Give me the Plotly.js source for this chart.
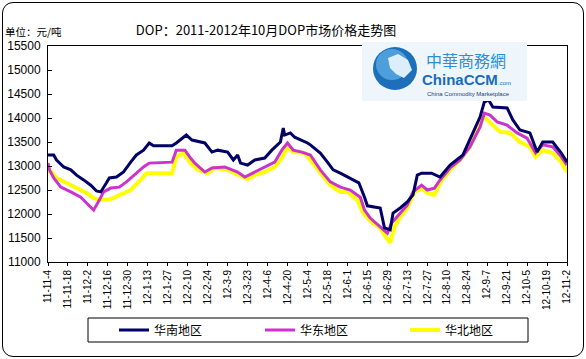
<!DOCTYPE html>
<html>
<head>
<meta charset="utf-8">
<script src="https://cdn.plot.ly/plotly-3.0.1.min.js"></script>
<style>
html,body{margin:0;padding:0;background:#fff;}
#wrap{position:relative;width:586px;height:359px;}
#chart{width:586px;height:359px;}
#frame{position:absolute;left:2px;top:2px;width:580px;height:353px;border:1px solid #000;border-radius:11px;pointer-events:none;}
</style>
</head>
<body>
<div id="wrap"><div id="chart"></div><div id="frame"></div></div>
<script>
// ---- data ----
const seriesNames = ['华南地区', '华东地区', '华北地区'];

const southDates = ['2011-11-04','2011-11-08','2011-11-10','2011-11-15','2011-11-20','2011-11-24','2011-11-29','2011-12-04','2011-12-08','2011-12-11','2011-12-15','2011-12-17','2011-12-22','2011-12-27','2012-01-01','2012-01-05','2012-01-10','2012-01-14','2012-01-17','2012-01-30','2012-02-02','2012-02-09','2012-02-13','2012-02-22','2012-02-27','2012-03-02','2012-03-09','2012-03-13','2012-03-16','2012-03-18','2012-03-23','2012-03-28','2012-04-04','2012-04-09','2012-04-15','2012-04-17','2012-04-18','2012-04-22','2012-04-25','2012-04-30','2012-05-04','2012-05-06','2012-05-13','2012-05-18','2012-05-22','2012-05-27','2012-06-03','2012-06-09','2012-06-13','2012-06-15','2012-06-24','2012-06-27','2012-07-01','2012-07-03','2012-07-08','2012-07-13','2012-07-17','2012-07-20','2012-07-23','2012-07-30','2012-08-05','2012-08-12','2012-08-21','2012-08-28','2012-09-02','2012-09-05','2012-09-08','2012-09-11','2012-09-21','2012-09-25','2012-09-30','2012-10-07','2012-10-12','2012-10-16','2012-10-23','2012-10-29','2012-11-02'];
const southValues = [13230,13230,13125,12980,12920,12810,12710,12600,12480,12460,12650,12750,12770,12875,13080,13230,13330,13480,13420,13420,13480,13645,13540,13480,13290,13330,13290,13125,13230,13060,13020,13125,13165,13330,13500,13790,13645,13690,13600,13540,13480,13440,13270,13080,12920,12850,12750,12650,12350,12170,12125,11710,11670,12020,12125,12250,12400,12810,12850,12850,12770,13020,13230,13690,14020,14330,14375,14230,14210,13960,13750,13690,13290,13500,13500,13270,13080];

const eastDates = ['2011-11-04','2011-11-05','2011-11-08','2011-11-13','2011-11-20','2011-11-27','2011-12-01','2011-12-06','2011-12-10','2011-12-13','2011-12-18','2011-12-24','2011-12-29','2012-01-05','2012-01-10','2012-01-14','2012-01-30','2012-02-02','2012-02-08','2012-02-12','2012-02-15','2012-02-22','2012-02-27','2012-03-07','2012-03-16','2012-03-21','2012-03-28','2012-04-04','2012-04-11','2012-04-16','2012-04-20','2012-04-24','2012-04-30','2012-05-06','2012-05-13','2012-05-20','2012-05-27','2012-06-03','2012-06-10','2012-06-13','2012-06-17','2012-06-24','2012-06-29','2012-07-02','2012-07-06','2012-07-13','2012-07-17','2012-07-23','2012-07-27','2012-08-01','2012-08-05','2012-08-12','2012-08-19','2012-08-26','2012-09-02','2012-09-05','2012-09-09','2012-09-14','2012-09-21','2012-09-28','2012-10-05','2012-10-11','2012-10-16','2012-10-23','2012-10-29','2012-11-02'];
const eastValues = [13060,12920,12750,12560,12460,12350,12230,12080,12290,12460,12540,12560,12670,12850,12980,13060,13080,13330,13330,13165,13060,12875,12960,12980,12875,12770,12875,12980,13080,13330,13480,13330,13290,13230,12920,12670,12560,12500,12350,12080,11915,11730,11600,11810,11940,12190,12460,12600,12500,12540,12710,12960,13125,13400,13810,14100,14060,13920,13850,13690,13580,13270,13440,13400,13190,13020];

const northDates = ['2011-11-04','2011-11-05','2011-11-10','2011-11-17','2011-11-24','2011-12-01','2011-12-06','2011-12-11','2011-12-18','2011-12-25','2012-01-01','2012-01-08','2012-01-12','2012-01-30','2012-02-02','2012-02-07','2012-02-12','2012-02-17','2012-02-24','2012-02-29','2012-03-09','2012-03-17','2012-03-23','2012-03-28','2012-04-04','2012-04-11','2012-04-16','2012-04-20','2012-04-24','2012-05-02','2012-05-06','2012-05-13','2012-05-20','2012-05-27','2012-06-01','2012-06-08','2012-06-12','2012-06-18','2012-06-24','2012-06-27','2012-07-01','2012-07-04','2012-07-08','2012-07-13','2012-07-18','2012-07-23','2012-07-27','2012-08-01','2012-08-05','2012-08-12','2012-08-19','2012-08-26','2012-09-02','2012-09-05','2012-09-09','2012-09-16','2012-09-23','2012-09-30','2012-10-07','2012-10-11','2012-10-16','2012-10-23','2012-10-29','2012-11-02'];
const northValues = [12850,12920,12750,12650,12540,12440,12330,12290,12310,12400,12500,12710,12850,12850,13190,13270,13060,12920,12850,12960,12920,12810,12730,12810,12875,12980,13165,13400,13290,13270,13125,12875,12600,12460,12460,12290,12020,11830,11710,11560,11400,11730,11940,12125,12460,12540,12440,12400,12650,12920,13125,13400,13920,14020,13900,13710,13690,13500,13400,13190,13330,13270,13080,12875];

const tickDates = ['2011-11-04','2011-11-18','2011-12-02','2011-12-16','2011-12-30','2012-01-13','2012-01-27','2012-02-10','2012-02-24','2012-03-09','2012-03-23','2012-04-06','2012-04-20','2012-05-04','2012-05-18','2012-06-01','2012-06-15','2012-06-29','2012-07-13','2012-07-27','2012-08-10','2012-08-24','2012-09-07','2012-09-21','2012-10-05','2012-10-19','2012-11-02'];
const tickLabels = ['11-11-4','11-11-18','11-12-2','11-12-16','11-12-30','12-1-13','12-1-27','12-2-10','12-2-24','12-3-9','12-3-23','12-4-6','12-4-20','12-5-4','12-5-18','12-6-1','12-6-15','12-6-29','12-7-13','12-7-27','12-8-10','12-8-24','12-9-7','12-9-21','12-10-5','12-10-19','12-11-2'];

const titleText = 'DOP：2011-2012年10月DOP市场价格走势图';
const unitText = '单位：元/吨';

// ---- layout helpers (pixel -> paper) ----
const L = 48, R = 567, T = 46, B = 262;
const PX = x => (x - L) / (R - L);
const PY = y => (B - y) / (B - T);

const cjk = '"Noto Sans CJK SC", "Noto Sans", sans-serif';
const legFont = {family: cjk, size: 12, color: '#000'};
const legBase = {orientation: 'h', xanchor: 'left', xref: 'paper', yanchor: 'middle', yref: 'paper',
                 y: PY(330), bgcolor: 'rgba(0,0,0,0)', borderwidth: 0, itemwidth: 30, font: legFont};

const traces = [
  {x: northDates, y: northValues, name: seriesNames[2], type: 'scatter', mode: 'lines',
   line: {color: '#ffff00', width: 4}, legend: 'legend3'},
  {x: eastDates, y: eastValues, name: seriesNames[1], type: 'scatter', mode: 'lines',
   line: {color: '#cc33cc', width: 3}, legend: 'legend2'},
  {x: southDates, y: southValues, name: seriesNames[0], type: 'scatter', mode: 'lines',
   line: {color: '#000066', width: 3}, legend: 'legend'}
];

const layout = {
  width: 586, height: 359,
  margin: {l: L, r: 586 - R, t: T, b: 359 - B, pad: 0},
  paper_bgcolor: '#ffffff', plot_bgcolor: '#ffffff',
  title: {text: titleText, font: {family: cjk, size: 13, color: '#000'},
          xref: 'container', x: 266 / 586, xanchor: 'center',
          yref: 'container', y: 1 - 30 / 359, yanchor: 'middle'},
  xaxis: {type: 'date', range: ['2011-11-04', '2012-11-02'],
          tickmode: 'array', tickvals: tickDates, ticktext: tickLabels,
          tickangle: -90, tickfont: {family: 'Liberation Sans, Arial, sans-serif', size: 10, color: '#000'},
          showgrid: false, zeroline: false, showline: true, linecolor: '#000', linewidth: 1,
          mirror: true, ticks: 'outside', ticklen: 3, tickcolor: '#000'},
  yaxis: {range: [11000, 15500], dtick: 500, tick0: 11000, tickformat: 'd',
          tickfont: {family: 'Liberation Sans, Arial, sans-serif', size: 12, color: '#000'},
          showgrid: false, zeroline: false, showline: true, linecolor: '#000', linewidth: 1,
          mirror: true, ticks: 'inside', ticklen: 4, tickcolor: '#000', ticklabelstandoff: 4},
  showlegend: true,
  legend: Object.assign({}, legBase, {x: PX(114)}),
  legend2: Object.assign({}, legBase, {x: PX(260)}),
  legend3: Object.assign({}, legBase, {x: PX(405)}),
  shapes: [
    // legend frame
    {type: 'rect', xref: 'paper', yref: 'paper', x0: PX(88), x1: PX(528), y0: PY(342), y1: PY(318),
     line: {color: '#000', width: 1}, fillcolor: '#fff', layer: 'below'},
    // logo panel
    {type: 'rect', xref: 'paper', yref: 'paper', x0: PX(362), x1: PX(527), y0: PY(101), y1: PY(42),
     line: {width: 0}, fillcolor: '#eef6fb', layer: 'above'},
    {type: 'circle', xref: 'paper', yref: 'paper', x0: PX(373), x1: PX(417), y0: PY(90), y1: PY(47),
     line: {width: 0}, fillcolor: '#1c6fb8', layer: 'above'},
    {type: 'circle', xref: 'paper', yref: 'paper', x0: PX(376), x1: PX(408), y0: PY(80), y1: PY(49),
     line: {width: 0}, fillcolor: '#4d9fdc', layer: 'above'},
    {type: 'path', xref: 'paper', yref: 'paper', layer: 'above', fillcolor: '#dceefa', line: {width: 0},
     path: 'M ' + PX(388) + ' ' + PY(58) + ' L ' + PX(398) + ' ' + PY(54) + ' L ' + PX(408) + ' ' + PY(60) +
           ' L ' + PX(412) + ' ' + PY(70) + ' L ' + PX(404) + ' ' + PY(78) + ' L ' + PX(396) + ' ' + PY(74) +
           ' L ' + PX(390) + ' ' + PY(68) + ' Z'}
  ],
  annotations: [
    {text: unitText, xref: 'paper', yref: 'paper', x: PX(3), y: PY(31), xanchor: 'left', yanchor: 'middle',
     showarrow: false, font: {family: cjk, size: 10.5, color: '#000'}},
    {text: '中華商務網', xref: 'paper', yref: 'paper', x: PX(466), y: PY(60), xanchor: 'center', yanchor: 'middle',
     showarrow: false, font: {family: '"Noto Sans CJK TC", sans-serif', size: 16, color: '#2a8fd6'}},
    {text: '<b>ChinaCCM</b>', xref: 'paper', yref: 'paper', x: PX(420), y: PY(79), xanchor: 'left', yanchor: 'middle',
     showarrow: false, font: {family: 'Liberation Sans, Arial, sans-serif', size: 15, color: '#1a6cb8'}},
    {text: '.com', xref: 'paper', yref: 'paper', x: PX(496), y: PY(83), xanchor: 'left', yanchor: 'middle',
     showarrow: false, font: {family: 'Liberation Sans, Arial, sans-serif', size: 6, color: '#1a6cb8'}},
    {text: 'China Commodity Marketplace', xref: 'paper', yref: 'paper', x: PX(468), y: PY(94), xanchor: 'center', yanchor: 'middle',
     showarrow: false, font: {family: 'Liberation Sans, Arial, sans-serif', size: 6, color: '#1d3d7a'}}
  ]
};

Plotly.newPlot('chart', traces, layout, {displayModeBar: false, staticPlot: true});
</script>
</body>
</html>
